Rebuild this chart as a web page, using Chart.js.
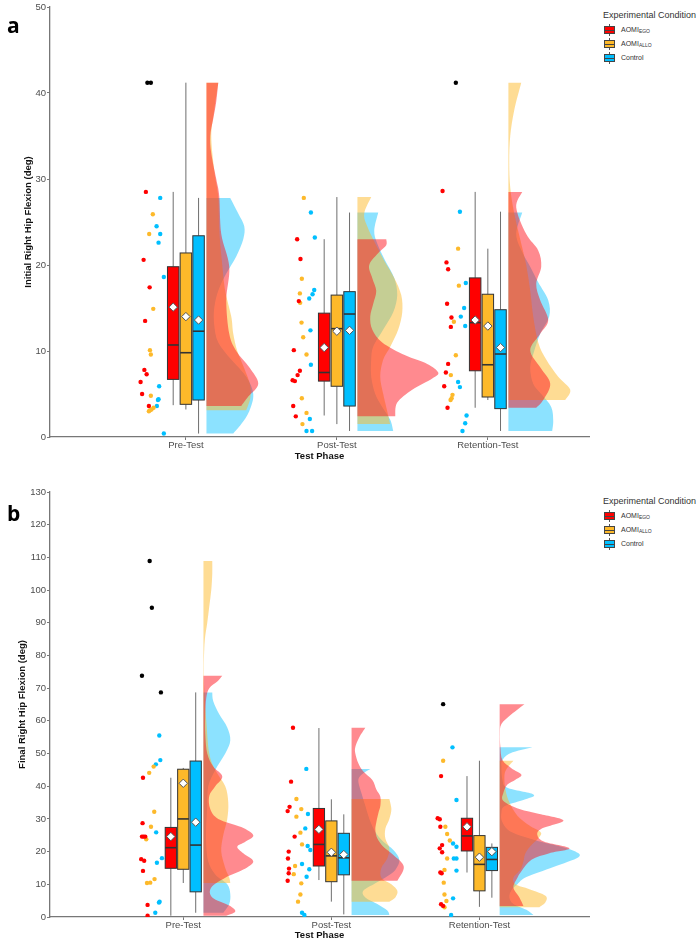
<!DOCTYPE html>
<html lang="en">
<head>
<meta charset="UTF-8">
<title>Initial and Final Right Hip Flexion by Test Phase</title>
<script src="https://cdn.jsdelivr.net/npm/chart.js@4.4.1/dist/chart.umd.min.js"></script>
<style>
  * { margin: 0; padding: 0; box-sizing: border-box; }
  body {
    width: 696px; height: 945px; position: relative; overflow: hidden;
    background: #fff; font-family: 'Liberation Sans', Arial, sans-serif;
  }
  .panel { position: absolute; left: 0; width: 600px; }
  #panelA { top: 0; height: 465px; }
  #panelB { top: 470px; height: 475px; }
  .tag { position: absolute; left: 7px; font: bold 21px 'Open Sans', sans-serif; line-height: 1; color: #000; }
  .legend-title { position: absolute; left: 603px; font-size: 9px; line-height: 10px; color: #333; white-space: nowrap; }
  .legend-item { position: absolute; left: 603px; height: 14px; line-height: 14px; font-size: 7px; color: #333; white-space: nowrap; }
  .legend-item sub { font-size: 5px; vertical-align: -1px; }
  .key { position: absolute; left: 1px; top: 1px; width: 11px; height: 12px; }
  .key .whisker { position: absolute; left: 5px; top: 0; width: 1px; height: 12px; background: #555; }
  .key .box { position: absolute; left: 0; top: 2px; width: 11px; height: 8px; border: 1px solid #444; }
  .key .median { position: absolute; left: 0; top: 5.5px; width: 11px; height: 1px; background: #444; }
  .legend-item .label { position: absolute; left: 18px; top: 0; }
</style>
</head>
<body>
<div class="panel" id="panelA"><canvas id="chartA"></canvas></div>
<div class="panel" id="panelB"><canvas id="chartB"></canvas></div>
<div class="tag" style="top:15px">a</div>
<div class="tag" style="top:503px">b</div>
<div id="legends"></div>

<script>
// categories
const phases = ['Pre-Test', 'Post-Test', 'Retention-Test'];
const conditions = ['AOMI<sub>EGO</sub>', 'AOMI<sub>ALLO</sub>', 'Control'];

// panel a: individual points [value, jitter]
const aPreEgo = [[28.5,-0.265],[20.6,-0.28],[17.4,-0.24],[13.5,-0.27],[7.8,-0.275],[7.3,-0.26],[6.4,-0.3],[5.0,-0.29],[3.6,-0.245]];
const aPreAllo = [[25.9,-0.219],[23.6,-0.243],[14.9,-0.216],[10.1,-0.238],[9.6,-0.232],[4.8,-0.232],[3.4,-0.214],[3.2,-0.228],[3.1,-0.238],[3.0,-0.245]];
const aPreCtrl = [[27.8,-0.17],[24.5,-0.194],[23.6,-0.17],[22.6,-0.181],[18.6,-0.146],[5.9,-0.177],[4.4,-0.181],[4.3,-0.185],[3.6,-0.192],[0.4,-0.146]];
const aPostEgo = [[23.0,-0.263],[20.7,-0.241],[15.8,-0.252],[10.1,-0.285],[7.7,-0.245],[7.2,-0.26],[6.6,-0.293],[6.5,-0.278],[3.6,-0.289],[2.4,-0.272]];
const aPostAllo = [[27.8,-0.219],[18.4,-0.232],[16.7,-0.245],[15.6,-0.243],[13.3,-0.234],[11.6,-0.223],[9.6,-0.201],[4.5,-0.232],[2.8,-0.201],[1.5,-0.228]];
const aPostCtrl = [[26.1,-0.172],[23.2,-0.146],[17.1,-0.15],[16.6,-0.161],[16.1,-0.183],[12.4,-0.175],[8.4,-0.172],[2.1,-0.179],[0.7,-0.201],[0.7,-0.164]];
const aRetEgo = [[28.6,-0.3],[20.3,-0.274],[19.5,-0.263],[15.5,-0.27],[13.9,-0.241],[12.8,-0.245],[8.5,-0.263],[7.5,-0.278],[5.9,-0.289],[3.4,-0.267]];
const aRetAllo = [[21.9,-0.197],[17.6,-0.192],[13.4,-0.225],[9.5,-0.212],[7.2,-0.245],[4.9,-0.234],[4.5,-0.24],[4.3,-0.247]];
const aRetCtrl = [[26.2,-0.185],[17.9,-0.146],[15.0,-0.157],[14.0,-0.179],[12.9,-0.15],[6.4,-0.197],[5.8,-0.185],[2.5,-0.141],[1.6,-0.15],[0.7,-0.168]];
// outliers [phase, value, jitter]
const aOutliers = [[1,41.2,-0.255],[1,41.2,-0.232],[3,41.2,-0.212]];

// panel a: box stats per phase [low, q1, median, q3, high, mean]
const aEgoBox = [[3.7,6.7,10.7,19.8,28.5,15.1],[2.5,6.5,7.5,14.4,23.0,10.4],[3.4,7.7,13.3,18.5,28.5,13.6]];
const aAlloBox = [[3.2,3.8,9.8,21.4,41.2,14.0],[1.5,5.9,12.6,16.5,27.9,12.3],[4.3,4.65,8.4,16.6,21.9,12.9]];
const aCtrlBox = [[0.4,4.3,12.3,23.4,27.8,13.6],[0.7,3.6,14.3,16.9,26.1,12.4],[0.7,3.3,9.65,14.8,26.2,10.4]];

// panel a: half-violin density [value, density]
const aPreEgoV = [[3.6,35],[4.7,42],[6.2,52],[8.1,43],[10,30],[12,23],[15.9,20],[19.8,23],[23.6,15],[28,13],[30,10],[33,5],[35,4],[37,7],[39,10],[41.2,12]];
const aPreAlloV = [[3.1,40],[4.5,44],[6,44],[8,38],[10,31],[12,27],[14,25],[17,19],[20,16],[24,13],[28,12],[31,8],[35,5],[38,8],[41.2,12]];
const aPreCtrlV = [[0.4,27],[1.5,35],[3,43],[5,47],[7,40],[9,25],[11,12],[13,8],[15,8],[17,12],[19,20],[21,30],[23,37],[24.5,38],[26,32],[27.8,24]];
const aPostEgoV = [[2.4,38],[4,40],[5.5,55],[6.8,75],[7.5,81],[8.5,70],[9.5,48],[11,25],[12.5,15],[14,13],[15.5,16],[17,19],[18.5,15],[20,12],[21.5,22],[22.3,29],[23,29]];
const aPostAlloV = [[1.5,33],[3,30],[5,26],[7,23],[9,26],[10.5,33],[12.5,41],[14.5,45],[16.5,44],[18.5,37],[20.5,27],[22.5,18],[24.5,10],[26,7],[27.9,14]];
const aPostCtrlV = [[0.7,36],[2,33],[3.5,25],[5,18],[7,14],[9,14],[10.5,16],[12.5,26],[14.5,36],[16.5,40],[18.5,37],[20.5,28],[22.5,20],[24,17],[26.1,21]];
const aRetEgoV = [[3.4,28],[4.3,35],[6.2,42],[8.1,32],[10.1,22],[12,32],[13.6,40],[15.9,32],[17.8,28],[19.8,33],[21.7,30],[23.6,18],[26.7,8],[28.5,14]];
const aRetAlloV = [[4.3,57],[5.5,62],[7,50],[9,38],[11,30],[14,25],[17,22],[20,18],[23,12],[26,6],[29,2],[32,1],[35,2],[38,6],[41.2,13]];
const aRetCtrlV = [[0.7,44],[1.9,45],[3.5,43],[5,33],[6.2,25],[8.1,22],[10,26],[12,32],[14,41],[15.9,40],[18,30],[19.8,22],[21.5,14],[23.6,8],[26.1,14]];

// panel b: individual points [value, jitter]
const bPreEgo = [[42.6,-0.272],[28.7,-0.275],[24.6,-0.279],[24.6,-0.268],[24.6,-0.257],[17.7,-0.284],[17.2,-0.264],[14.1,-0.272],[3.7,-0.241],[0.4,-0.241]];
const bPreAllo = [[46.0,-0.2],[44.1,-0.23],[32.2,-0.196],[27.6,-0.218],[23.8,-0.25],[11.6,-0.194],[10.5,-0.223],[10.4,-0.245]];
const bPreCtrl = [[55.5,-0.162],[48.0,-0.155],[46.7,-0.185],[25.9,-0.183],[18.0,-0.144],[16.6,-0.178],[4.7,-0.16],[4.4,-0.164],[1.3,-0.189]];
const bPostEgo = [[57.9,-0.259],[41.4,-0.272],[33.7,-0.282],[32.4,-0.295],[24.6,-0.248],[20.0,-0.288],[17.9,-0.293],[14.8,-0.286],[13.4,-0.288],[11.1,-0.295]];
const bPostAllo = [[36.1,-0.236],[33.0,-0.203],[30.7,-0.236],[25.8,-0.209],[22.2,-0.198],[15.6,-0.245],[13.1,-0.254],[10.3,-0.203],[6.9,-0.209],[4.7,-0.225]];
const bPostCtrl = [[45.3,-0.169],[31.5,-0.158],[27.1,-0.176],[21.7,-0.16],[20.5,-0.142],[16.2,-0.198],[14.6,-0.149],[12.3,-0.167],[1.3,-0.198],[0.6,-0.182]];
const bRetEgo = [[43.1,-0.259],[30.2,-0.282],[29.9,-0.268],[27.6,-0.264],[22.0,-0.252],[21.0,-0.268],[19.8,-0.252],[13.6,-0.264],[13.4,-0.255],[3.9,-0.259],[3.4,-0.245]];
const bRetAllo = [[47.8,-0.245],[27.6,-0.23],[25.4,-0.218],[23.4,-0.2],[17.9,-0.218],[14.4,-0.236],[10.5,-0.241],[6.9,-0.236],[4.9,-0.223],[3.0,-0.236]];
const bRetCtrl = [[51.9,-0.182],[35.8,-0.155],[22.5,-0.178],[21.5,-0.155],[17.9,-0.173],[17.9,-0.155],[14.2,-0.155],[5.7,-0.178],[0.6,-0.191]];
const bOutliers = [[1,108.9,-0.227],[1,94.6,-0.212],[1,73.8,-0.279],[1,68.7,-0.151],[3,65.1,-0.245]];

// panel b: box stats
const bEgoBox = [[0.4,14.9,21.2,27.4,42.6,24.6],[11.3,15.6,22.2,33.2,57.8,26.8],[13.6,20.2,24.8,30.2,43.1,27.6]];
const bAlloBox = [[10.4,14.6,30.0,45.2,45.6,40.9],[4.7,10.8,18.7,29.4,36.0,19.8],[3.1,8.0,16.1,24.9,47.8,18.3]];
const bCtrlBox = [[1.3,7.7,22.0,47.7,68.7,29.0],[0.8,12.9,18.1,25.6,31.4,19.1],[5.9,14.2,17.6,21.3,22.5,20.0]];

// panel b: half-violin density
const bPreEgoV = [[0.4,23],[1.7,32],[3.5,26],[6,9],[9,8],[12,22],[14.5,40],[17,50],[19.5,40],[21.5,34],[23,42],[25,50],[27.5,38],[30,15],[33,7],[37,6],[40,12],[43,19],[46,10],[50,4],[56,2],[62,2],[67,3],[70,6],[72,14],[73.8,19]];
const bPreAlloV = [[10.4,27],[12,26],[15,22],[20,18],[25,20],[30,24],[35,25],[40,22],[45,12],[50,6],[60,3],[70,1],[76,0.5],[82,1],[86,2],[90,4],[95,6],[100,8],[105,9],[108.9,9]];
const bPreCtrlV = [[1.3,20],[4,26],[7,27],[10,24],[13,12],[17,5],[22,3],[28,3],[34,4],[40,5],[45,12],[50,22],[54,27],[58,24],[62,16],[66,10],[68.7,9]];
const bPostEgoV = [[11.1,46],[14.4,52],[16.4,51],[19,42],[21.5,32],[24,26],[26.6,24],[29,25],[31.7,27],[34,29],[36.8,29],[39,25],[41.9,21],[44.5,12],[47,7],[50,4],[52,4],[55,8],[57.9,14]];
const bPostAlloV = [[4.7,38],[6,44],[8,46],[10,40],[12,30],[15,30],[18,36],[21,38],[24,34],[27,34],[30,38],[33,40],[36.1,38]];
const bPostCtrlV = [[0.6,38],[2,36],[4,26],[6,14],[8,12],[10.3,24],[12.5,36],[14.4,44],[17.5,48],[20.5,42],[23,32],[26,24],[30,18],[34,14],[38,10],[42,7],[44,12],[45.3,19]];
const bRetEgoV = [[3.4,24],[6,20],[9,14],[12,18],[14,22],[17.5,32],[19.5,50],[21,70],[23,45],[25,38],[27,42],[29.5,64],[31.5,40],[33,20],[35.5,4],[38,4],[40.5,8],[42,16],[43.5,22],[45.5,12],[48,3],[52,1],[56,0.5],[59,2],[62,12],[65.1,25]];
const bRetAlloV = [[3.0,40],[4.5,46],[6.5,46],[8.5,30],[10,16],[12,14],[14.5,21],[17,24],[19.5,26],[22,32],[24.5,40],[26,41],[28,30],[31,18],[35,10],[39,6],[43,5],[45.2,7],[47.8,14]];
const bRetCtrlV = [[0.6,34],[2.2,27],[4,14],[6,10],[8.2,12],[10,18],[12.2,27],[15.3,54],[18.3,79],[20,76],[21.5,62],[23.5,36],[26,12],[29,3],[32,2],[34,6],[36,26],[37.5,34],[39.5,8],[42,3],[46,2],[48,3],[50.1,11],[51.9,33]];

const fills = ['#ff0000', '#fdb92a', '#00bfff'];
const shades = ['rgba(255,10,20,0.48)', 'rgba(253,185,42,0.5)', 'rgba(0,191,255,0.45)'];
const BOX_DODGE = 0.084;
const BOX_HALF = 0.038;
const VIOLIN_GAP = 0.135;
const FONT = "'Liberation Sans', Arial, sans-serif";

// catmull-rom through the density outline
function smoothTo(ctx, pts) {
    ctx.lineTo(pts[0][0], pts[0][1]);
    for (let i = 0; i < pts.length - 1; i++) {
        const p0 = pts[Math.max(i - 1, 0)], p1 = pts[i], p2 = pts[i + 1], p3 = pts[Math.min(i + 2, pts.length - 1)];
        ctx.bezierCurveTo(
            p1[0] + (p2[0] - p0[0]) / 6, p1[1] + (p2[1] - p0[1]) / 6,
            p2[0] - (p3[0] - p1[0]) / 6, p2[1] - (p3[1] - p1[1]) / 6,
            p2[0], p2[1]);
    }
}

const rainPlugin = {
    id: 'rain',
    beforeDatasetsDraw(chart, args, opts) {
        const { ctx, chartArea } = chart;
        const xs = chart.scales.x, ys = chart.scales.y;
        ctx.save();

        // half violins, control first so the EGO cloud sits on top
        opts.violins.forEach((row, p) => [2, 1, 0].forEach(c => {
            const dens = row[c];
            const x0 = p + 1 + VIOLIN_GAP;
            const px0 = xs.getPixelForValue(x0);
            const pts = dens.map(([v, d]) => [xs.getPixelForValue(x0 + d / opts.densScale), ys.getPixelForValue(v)]);
            ctx.save();
            ctx.beginPath();
            ctx.rect(px0, chartArea.top, chartArea.right - px0, chartArea.bottom - chartArea.top);
            ctx.clip();
            ctx.beginPath();
            ctx.moveTo(px0, pts[0][1]);
            smoothTo(ctx, pts);
            ctx.lineTo(px0, pts[pts.length - 1][1]);
            ctx.closePath();
            ctx.fillStyle = shades[c];
            ctx.fill();
            ctx.restore();
        }));

        // boxplots
        opts.boxes.forEach((stats, c) => stats.forEach(([lo, q1, md, q3, hi], p) => {
            const cx = p + 1 + (c - 1) * BOX_DODGE;
            const l = xs.getPixelForValue(cx - BOX_HALF), r = xs.getPixelForValue(cx + BOX_HALF);
            const m = xs.getPixelForValue(cx);
            ctx.strokeStyle = '#6e6e6e';
            ctx.lineWidth = 1;
            ctx.beginPath();
            ctx.moveTo(m, ys.getPixelForValue(lo)); ctx.lineTo(m, ys.getPixelForValue(q1));
            ctx.moveTo(m, ys.getPixelForValue(q3)); ctx.lineTo(m, ys.getPixelForValue(hi));
            ctx.stroke();
            const top = ys.getPixelForValue(q3), bot = ys.getPixelForValue(q1);
            ctx.fillStyle = fills[c];
            ctx.fillRect(l, top, r - l, bot - top);
            ctx.strokeStyle = '#333';
            ctx.strokeRect(l, top, r - l, bot - top);
            ctx.lineWidth = 1.6;
            ctx.beginPath();
            ctx.moveTo(l, ys.getPixelForValue(md)); ctx.lineTo(r, ys.getPixelForValue(md));
            ctx.stroke();
        }));
        ctx.restore();
    }
};

function makeChart(id, cfg) {
    const datasets = [];
    cfg.points.forEach((row, p) => row.forEach((pts, c) => {
        datasets.push({
            data: pts.map(([v, j]) => ({ x: p + 1 + j, y: v })),
            backgroundColor: fills[c], borderWidth: 0, pointRadius: 2.2
        });
    }));
    datasets.push({
        data: cfg.outliers.map(([p, v, j]) => ({ x: p + j, y: v })),
        backgroundColor: '#000', borderWidth: 0, pointRadius: 2.2
    });
    cfg.boxes.forEach((stats, c) => {
        datasets.push({
            data: stats.map((s, p) => ({ x: p + 1 + (c - 1) * BOX_DODGE, y: s[5] })),
            pointStyle: 'rectRot', pointRadius: 4.2,
            backgroundColor: '#fff', borderColor: '#555', borderWidth: 1
        });
    });

    return new Chart(document.getElementById(id), {
        type: 'scatter',
        data: { datasets },
        plugins: [rainPlugin],
        options: {
            responsive: true,
            maintainAspectRatio: false,
            animation: false,
            layout: { padding: { top: cfg.padTop, right: 11, left: 0, bottom: 0 } },
            plugins: {
                legend: { display: false },
                tooltip: { enabled: false },
                rain: { violins: cfg.violins, boxes: cfg.boxes, densScale: cfg.densScale }
            },
            scales: {
                x: {
                    type: 'linear', min: 0.1, max: cfg.xMax,
                    afterBuildTicks: s => { s.ticks = phases.map((_, i) => ({ value: i + 1 })); },
                    afterFit: s => { s.height = 28; },
                    ticks: {
                        callback: v => phases[v - 1], autoSkip: false, maxRotation: 0,
                        font: { family: FONT, size: 9.5 }, color: '#4d4d4d', padding: 0
                    },
                    grid: { drawOnChartArea: false, drawTicks: true, tickLength: 3, color: '#777' },
                    border: { display: true, color: '#777', width: 1.3 },
                    title: {
                        display: true, text: 'Test Phase', color: '#111',
                        font: { family: FONT, size: 9.5, weight: 'bold' }, padding: { top: 0, bottom: cfg.xTitlePad }
                    }
                },
                y: {
                    min: 0, max: cfg.yMax,
                    afterFit: s => { s.width = 50; },
                    ticks: { stepSize: 10, font: { family: FONT, size: 9.5 }, color: '#4d4d4d', padding: 1 },
                    grid: { drawOnChartArea: false, drawTicks: true, tickLength: 3, color: '#777' },
                    border: { display: true, color: '#777', width: 1.3 },
                    title: {
                        display: true, text: cfg.yTitle, color: '#111',
                        font: { family: FONT, size: 9.5, weight: 'bold' }, padding: { top: cfg.yTitlePad, bottom: 0 }
                    }
                }
            }
        }
    });
}

makeChart('chartA', {
    points: [[aPreEgo, aPreAllo, aPreCtrl], [aPostEgo, aPostAllo, aPostCtrl], [aRetEgo, aRetAllo, aRetCtrl]],
    outliers: aOutliers,
    boxes: [aEgoBox, aAlloBox, aCtrlBox],
    violins: [[aPreEgoV, aPreAlloV, aPreCtrlV], [aPostEgoV, aPostAlloV, aPostCtrlV], [aRetEgoV, aRetAlloV, aRetCtrlV]],
    densScale: 151, xMax: 3.67, yMax: 50, padTop: 7,
    yTitle: 'Initial Right Hip Flexion (deg)', yTitlePad: 23, xTitlePad: 3
});

makeChart('chartB', {
    points: [[bPreEgo, bPreAllo, bPreCtrl], [bPostEgo, bPostAllo, bPostCtrl], [bRetEgo, bRetAllo, bRetCtrl]],
    outliers: bOutliers,
    boxes: [bEgoBox, bAlloBox, bCtrlBox],
    violins: [[bPreEgoV, bPreAlloV, bPreCtrlV], [bPostEgoV, bPostAlloV, bPostCtrlV], [bRetEgoV, bRetAlloV, bRetCtrlV]],
    densScale: 148, xMax: 3.74, yMax: 130, padTop: 22,
    yTitle: 'Final Right Hip Flexion (deg)', yTitlePad: 17, xTitlePad: 4
});

// legends (html so the subscripts stay real text)
function addLegend(top) {
    const host = document.getElementById('legends');
    const title = document.createElement('div');
    title.className = 'legend-title';
    title.style.top = top + 'px';
    title.textContent = 'Experimental Condition';
    host.appendChild(title);
    conditions.forEach((name, c) => {
        const item = document.createElement('div');
        item.className = 'legend-item';
        item.style.top = (top + 13 + c * 14) + 'px';
        item.innerHTML = '<div class="key"><div class="whisker"></div><div class="box" style="background:' + fills[c] +
            '"></div><div class="median"></div></div><span class="label">' + name + '</span>';
        host.appendChild(item);
    });
}
addLegend(10);
addLegend(496);
</script>
</body>
</html>
